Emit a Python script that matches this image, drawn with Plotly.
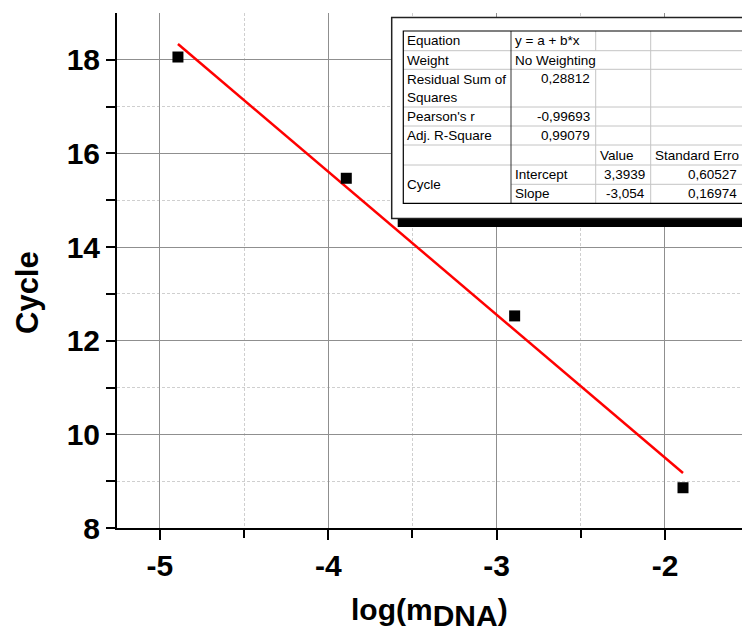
import plotly.graph_objects as go

# ---------------- data ----------------
x_log_mdna = [-4.893, -3.893, -2.893, -1.893]
y_cycle = [18.06, 15.47, 12.53, 8.86]

fit_intercept = 3.3939
fit_slope = -3.054

x_tick_vals = [-5, -4, -3, -2]
x_tick_text = ["-5", "-4", "-3", "-2"]
x_minor_vals = [-4.5, -3.5, -2.5, -1.5]
y_tick_vals = [8, 10, 12, 14, 16, 18]
y_tick_text = ["8", "10", "12", "14", "16", "18"]
y_minor_vals = [9, 11, 13, 15, 17]

stat_names = ["Equation", "Weight", "Residual Sum of<br>Squares", "Pearson's r", "Adj. R-Square"]
stat_values = ["y = a + b*x", "No Weighting", "0,28812", "-0,99693", "0,99079"]
param_headers = ["Value", "Standard Erro"]
param_group = "Cycle"
param_names = ["Intercept", "Slope"]
param_values = ["3,3939", "-3,054"]
param_errors = ["0,60527", "0,16974"]

# ---------------- figure geometry ----------------
# the page body has an 8px margin, so the figure is placed at (8, 8) in the window
OFF = 8
W, H = 750 - OFF, 638 - OFF
ML, MR, MT, MB = 117 - OFF, 0, 13 - OFF, 110
PW, PH = W - ML - MR, H - MT - MB


def px(xp):
    # window pixel x -> paper x
    return (xp - OFF - ML) / PW


def py(yp):
    # window pixel y -> paper y
    return (H - MB - (yp - OFF)) / PH


FONT = "Arial, Liberation Sans, sans-serif"

fig = go.Figure()

fit_x = [min(x_log_mdna), max(x_log_mdna)]
fit_y = [fit_intercept + fit_slope * v for v in fit_x]
fig.add_trace(go.Scatter(x=fit_x, y=fit_y, mode="lines",
                         line=dict(color="#ff0000", width=2.5), showlegend=False))
fig.add_trace(go.Scatter(x=x_log_mdna, y=y_cycle, mode="markers",
                         marker=dict(symbol="square", size=11, color="black"),
                         showlegend=False))

tickfont = dict(family=FONT, size=30, color="black", weight="bold")

fig.update_xaxes(range=[-5.255, -1.495], tickvals=x_tick_vals, ticktext=x_tick_text,
                 showline=True, linewidth=2, linecolor="black", ticks="outside",
                 ticklen=10, tickwidth=2, tickcolor="black", tickfont=tickfont,
                 showgrid=True, gridcolor="#8f8f8f", gridwidth=1, zeroline=False,
                 minor=dict(tickvals=x_minor_vals, ticks="outside", ticklen=8, tickwidth=2,
                            tickcolor="black", showgrid=True, gridcolor="#cfcfcf",
                            griddash="3px,2px", gridwidth=1))
fig.update_yaxes(range=[8, 19], tickvals=y_tick_vals, ticktext=y_tick_text,
                 showline=True, linewidth=2, linecolor="black", ticks="outside",
                 ticklen=9, tickwidth=2, tickcolor="black", tickfont=tickfont,
                 showgrid=True, gridcolor="#8f8f8f", gridwidth=1, zeroline=False,
                 minor=dict(tickvals=y_minor_vals, ticks="outside", ticklen=9, tickwidth=2,
                            tickcolor="black", showgrid=True, gridcolor="#cfcfcf",
                            griddash="3px,2px", gridwidth=1))

shapes = []
annotations = []

# axis titles
annotations.append(dict(x=px(27), y=py(293), xref="paper", yref="paper", text="Cycle",
                        textangle=-90, showarrow=False, xanchor="center", yanchor="middle",
                        font=dict(family=FONT, size=31, color="black", weight="bold")))
annotations.append(dict(x=px(429), y=py(612), xref="paper", yref="paper",
                        text="log(m<sub><span style='font-size:30px'>DNA</span></sub>)",
                        showarrow=False, xanchor="center", yanchor="middle",
                        font=dict(family=FONT, size=30, color="black", weight="bold")))

# ---------------- fit result table ----------------
frame_l, frame_t, frame_r, frame_b = 391.7, 17.5, 760, 218.5
shapes.append(dict(type="rect", xref="paper", yref="paper", layer="above",
                   x0=px(frame_l + 6), x1=px(frame_r + 6), y0=py(frame_t + 9), y1=py(frame_b + 8.5),
                   fillcolor="black", line=dict(width=0)))
shapes.append(dict(type="rect", xref="paper", yref="paper", layer="above",
                   x0=px(frame_l), x1=px(frame_r), y0=py(frame_t), y1=py(frame_b),
                   fillcolor="white", line=dict(color="#222222", width=1.5)))

cols = [403.3, 511, 595.7, 650.7, 742.7]
rows = [31, 50.7, 69.3, 107, 126, 145, 165, 184.3, 203.3]
grey = "#c4c4c4"


def hline(yv, xa, xb, color=grey, w=1):
    shapes.append(dict(type="line", xref="paper", yref="paper", layer="above",
                       x0=px(xa), x1=px(xb), y0=py(yv), y1=py(yv),
                       line=dict(color=color, width=w)))


def vline(xv, ya, yb, color=grey, w=1):
    shapes.append(dict(type="line", xref="paper", yref="paper", layer="above",
                       x0=px(xv), x1=px(xv), y0=py(ya), y1=py(yb),
                       line=dict(color=color, width=w)))


for r in rows[1:-1]:
    if r == rows[7]:
        hline(r, cols[1], cols[4])
    else:
        hline(r, cols[0], cols[4])
vline(cols[1], rows[0], rows[-1], "#333333", 1)
vline(cols[2], rows[0], rows[1])
vline(cols[2], rows[2], rows[-1])
vline(cols[3], rows[0], rows[-1])
shapes.append(dict(type="rect", xref="paper", yref="paper", layer="above",
                   x0=px(cols[0]), x1=px(cols[4]), y0=py(rows[0]), y1=py(rows[-1]),
                   line=dict(color="black", width=1.2)))

tfont = dict(family=FONT, size=13.5, color="black")


def cell(text, xv, yv, anchor="left"):
    annotations.append(dict(x=px(xv), y=py(yv), xref="paper", yref="paper", text=text,
                            showarrow=False, xanchor=anchor, yanchor="middle", font=tfont,
                            align="left"))


stat_rows = [(0, 1), (1, 2), (2, 3), (3, 4), (4, 5)]
for i, name in enumerate(stat_names):
    a, b = stat_rows[i]
    cell(name, cols[0] + 2, (rows[a] + rows[b]) / 2)
    val = stat_values[i]
    if i < 2:
        cell(val, cols[1] + 2, (rows[a] + rows[b]) / 2)
    elif i == 2:
        cell(val, cols[2] - 4, rows[a] + 9.5, "right")
    else:
        cell(val, cols[2] - 4, (rows[a] + rows[b]) / 2, "right")

cell(param_headers[0], cols[2] + 2, (rows[5] + rows[6]) / 2)
cell(param_headers[1], cols[3] + 2, (rows[5] + rows[6]) / 2)
cell(param_group, cols[0] + 2, (rows[6] + rows[8]) / 2)
for j in range(2):
    yc = (rows[6 + j] + rows[7 + j]) / 2
    cell(param_names[j], cols[1] + 2, yc)
    cell(param_values[j], cols[3] - 4, yc, "right")
    cell(param_errors[j], cols[4] - 4, yc, "right")

fig.update_layout(width=W, height=H, margin=dict(l=ML, r=MR, t=MT, b=MB, autoexpand=False),
                  plot_bgcolor="white", paper_bgcolor="white", showlegend=False,
                  shapes=shapes, annotations=annotations)

fig.write_html("out.html")
